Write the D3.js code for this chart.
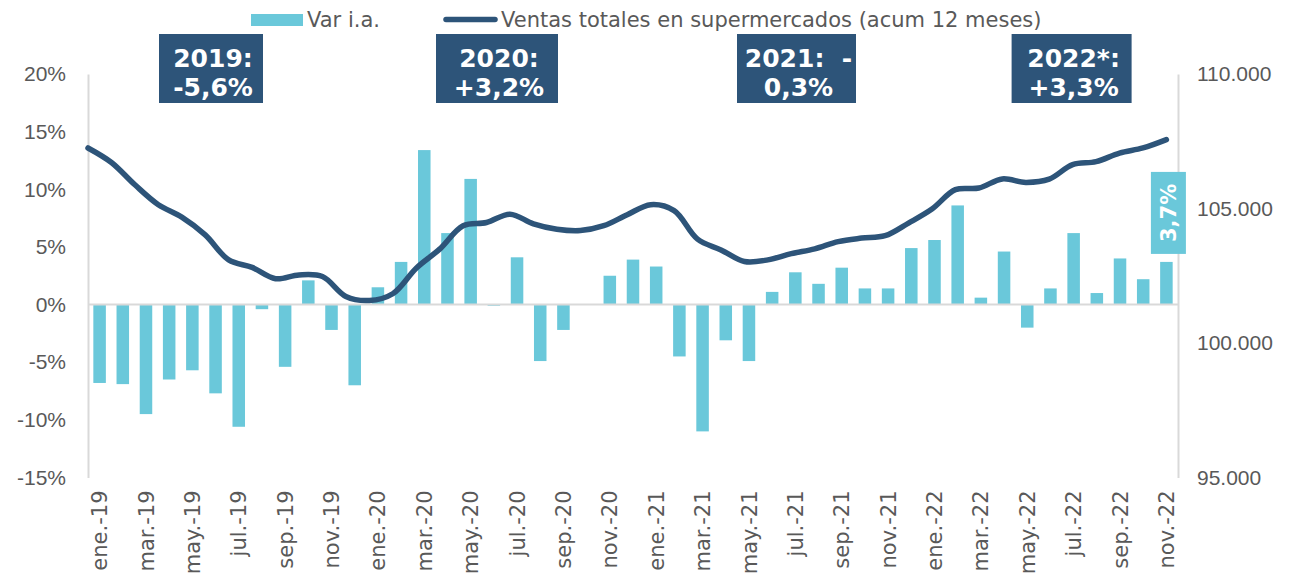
<!DOCTYPE html>
<html lang=es>
  <head>
    <meta charset="utf-8">
    <title>Ventas supermercados</title>
    <style>
      body { margin: 0; background: #fff; }
      svg { display: block; font-family: "DejaVu Sans", Verdana, sans-serif; }
      .tick text { fill: #595959; font-size: 21px; }
      .domain { stroke: #d9d9d9; }
    </style>
  </head>
  <body>
    <svg></svg>
    <script src="https://d3js.org/d3.v7.min.js"></script>
    <script>

      // data
      const months = [
        "ene.-19","feb.-19","mar.-19","abr.-19","may.-19","jun.-19","jul.-19","ago.-19","sep.-19","oct.-19","nov.-19","dic.-19",
        "ene.-20","feb.-20","mar.-20","abr.-20","may.-20","jun.-20","jul.-20","ago.-20","sep.-20","oct.-20","nov.-20","dic.-20",
        "ene.-21","feb.-21","mar.-21","abr.-21","may.-21","jun.-21","jul.-21","ago.-21","sep.-21","oct.-21","nov.-21","dic.-21",
        "ene.-22","feb.-22","mar.-22","abr.-22","may.-22","jun.-22","jul.-22","ago.-22","sep.-22","oct.-22","nov.-22"
      ]
      const varIA = [
        -6.8,-6.9,-9.5,-6.5,-5.7,-7.7,-10.6,-0.4,-5.4,2.1,-2.2,-7.0,
        1.5,3.7,13.4,6.2,10.9,-0.1,4.1,-4.9,-2.2,0.0,2.5,3.9,
        3.3,-4.5,-11.0,-3.1,-4.9,1.1,2.8,1.8,3.2,1.4,1.4,4.9,
        5.6,8.6,0.6,4.6,-2.0,1.4,6.2,1.0,4.0,2.2,3.7
      ]
      const ventas = [
        107250,106710,105880,105140,104680,104020,103090,102810,102390,102530,102470,101730,
        101580,101830,102780,103490,104360,104480,104790,104430,104230,104180,104360,104770,
        105140,104920,103860,103460,103030,103090,103320,103500,103770,103900,103990,104460,
        104980,105700,105760,106100,105970,106090,106630,106740,107060,107250,107560
      ]
      const leftTicks = [-15, -10, -5, 0, 5, 10, 15, 20]
      const rightTicks = [95000, 100000, 105000, 110000]
      const seriesNames = ["Var i.a.", "Ventas totales en supermercados (acum 12 meses)"]
      const yearNotes = [["2019:", "-5,6%"], ["2020:", "+3,2%"], ["2021:  -", "0,3%"], ["2022*:", "+3,3%"]]
      const lastLabel = "3,7%"

      const W = 1293, H = 580
      const m = {left: 88, right: 1178, top: 74, bottom: 477.5}
      const barColor = "#6ac8da", lineColor = "#2d5479"

      const svg = d3.select("svg").attr("width", W).attr("height", H)

      // scales
      const x = d3.scaleBand().domain(months).range([m.left, m.right]).paddingInner(0.46).paddingOuter(0.23)
      const xLine = d3.scalePoint().domain(months).range([m.left, x(months[months.length - 1]) + x.bandwidth() / 2])
      const y = d3.scaleLinear().domain([-15, 20]).range([m.bottom, m.top])
      const y2 = d3.scaleLinear().domain([95000, 110000]).range([m.bottom, m.top])

      const es = d3.formatLocale({decimal: ",", thousands: ".", grouping: [3], currency: ["", ""]})

      // axes
      svg.append("g")
        .attr("transform", "translate(" + m.left + ",0)")
        .call(d3.axisLeft(y).tickValues(leftTicks).tickSize(0).tickPadding(22).tickFormat(d => d + "%"))
        .select(".domain").attr("stroke-width", 2)

      svg.append("g")
        .attr("transform", "translate(" + m.right + ",0)")
        .call(d3.axisRight(y2).tickValues(rightTicks).tickSize(0).tickPadding(19).tickFormat(es.format(",")))
        .select(".domain").attr("stroke-width", 2)

      // bars
      svg.selectAll(".bar")
        .data(varIA)
        .enter().append("rect")
          .attr("class", "bar")
          .attr("x", (d, i) => x(months[i]))
          .attr("y", d => y(Math.max(0, d)))
          .attr("width", x.bandwidth())
          .attr("height", d => Math.abs(y(d) - y(0)))
          .attr("fill", barColor)

      // zero line
      svg.append("line")
        .attr("x1", m.left).attr("x2", m.right)
        .attr("y1", y(0)).attr("y2", y(0))
        .attr("stroke", "#d9d9d9").attr("stroke-width", 2)

      // x labels, every other month
      svg.selectAll(".xlab")
        .data(months.filter((d, i) => i % 2 == 0))
        .enter().append("text")
          .attr("class", "xlab")
          .attr("transform", d => "translate(" + (x(d) + x.bandwidth() / 2) + "," + (m.bottom + 13) + ") rotate(-90)")
          .attr("dy", "0.36em")
          .attr("text-anchor", "end")
          .attr("fill", "#595959")
          .attr("font-size", 21)
          .text(d => d)

      // line
      const line = d3.line()
        .x((d, i) => xLine(months[i]))
        .y(d => y2(d))
        .curve(d3.curveCatmullRom.alpha(0.5))

      svg.append("path")
        .datum(ventas)
        .attr("d", line)
        .attr("fill", "none")
        .attr("stroke", lineColor)
        .attr("stroke-width", 5.5)
        .attr("stroke-linecap", "round")

      // label on last bar
      const lastI = varIA.length - 1
      const lx = x(months[lastI]) + x.bandwidth() / 2 + 2
      const lb = y(varIA[lastI]) - 8
      svg.append("rect")
        .attr("x", lx - 17.5).attr("y", lb - 82)
        .attr("width", 35).attr("height", 82)
        .attr("fill", barColor)
      svg.append("text")
        .attr("transform", "translate(" + lx + "," + (lb - 41) + ") rotate(-90)")
        .attr("dy", "0.36em")
        .attr("text-anchor", "middle")
        .attr("fill", "#fff")
        .attr("font-size", 21)
        .attr("font-weight", "bold")
        .text(lastLabel)

      // year notes
      const noteX = [211, 497, 796.5, 1071.6], noteW = [104, 122, 119, 120]
      const notes = svg.selectAll(".note")
        .data(yearNotes)
        .enter().append("g")
          .attr("class", "note")
          .attr("transform", (d, i) => "translate(" + noteX[i] + ",34)")
      notes.append("rect")
        .attr("x", (d, i) => -noteW[i] / 2)
        .attr("width", (d, i) => noteW[i])
        .attr("height", 69)
        .attr("fill", lineColor)
      notes.selectAll("text")
        .data(d => d)
        .enter().append("text")
          .attr("x", 2)
          .attr("y", (d, j) => 33 + j * 29)
          .attr("text-anchor", "middle")
          .attr("fill", "#fff")
          .attr("font-size", 25)
          .attr("font-weight", "bold")
          .style("white-space", "pre")
          .text(d => d)

      // legend
      const leg = svg.append("g").attr("font-size", 21).attr("fill", "#595959")
      leg.append("rect").attr("x", 251).attr("y", 14).attr("width", 52).attr("height", 12).attr("fill", barColor)
      leg.append("text").attr("x", 307).attr("y", 27).text(seriesNames[0])
      leg.append("line").attr("x1", 446).attr("x2", 495).attr("y1", 19.5).attr("y2", 19.5)
        .attr("stroke", lineColor).attr("stroke-width", 5.5).attr("stroke-linecap", "round")
      leg.append("text").attr("x", 501).attr("y", 27).text(seriesNames[1])
    </script>
  </body>
</html>
